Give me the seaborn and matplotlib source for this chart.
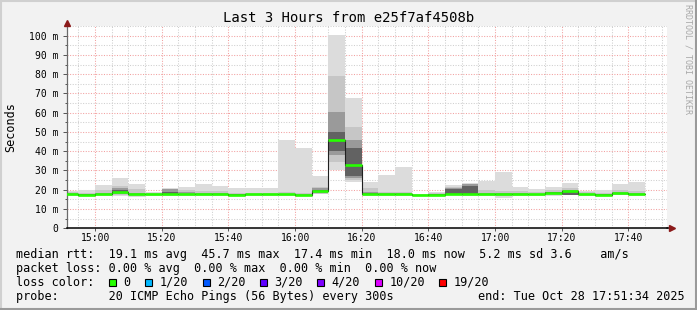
import numpy as np
import pandas as pd
import matplotlib
matplotlib.use("Agg")
import matplotlib.pyplot as plt
import seaborn as sns
from matplotlib.lines import Line2D
from matplotlib.patches import Rectangle
from matplotlib.ticker import FixedLocator, MultipleLocator

# ---------------- data ----------------
title = "Last 3 Hours from e25f7af4508b"
window_start = "14:51:34"
window_end = "17:51:34"
bin_minutes = 5

bin_start = ["14:50", "14:55", "15:00", "15:05", "15:10", "15:15", "15:20",
             "15:25", "15:30", "15:35", "15:40", "15:45", "15:50", "15:55",
             "16:00", "16:05", "16:10", "16:15", "16:20", "16:25", "16:30",
             "16:35", "16:40", "16:45", "16:50", "16:55", "17:00", "17:05",
             "17:10", "17:15", "17:20", "17:25", "17:30", "17:35", "17:40"]

median = [17.7, 17.4, 17.7, 18.6, 17.6, 17.7, 17.7, 17.7, 17.7, 17.7, 17.5, 17.6,
          17.6, 17.7, 17.2, 19.4, 45.6, 33.0, 17.8, 17.8, 17.8, 17.3, 17.4, 17.9,
          17.8, 17.8, 17.6, 17.8, 17.7, 18.4, 19.1, 17.7, 17.4, 18.2, 17.8]
ping_min = [17.0, 16.8, 16.9, 16.8, 16.4, 17.0, 17.0, 17.0, 17.0, 17.0, 16.8, 16.8,
            16.8, 17.0, 16.8, 17.6, 30.3, 24.2, 16.8, 17.0, 17.0, 16.9, 16.9, 17.2,
            17.0, 17.0, 15.9, 17.0, 16.9, 17.0, 17.2, 17.0, 17.0, 17.2, 17.0]
ping_p10 = [17.2, 17.0, 17.2, 17.3, 17.0, 17.3, 17.3, 17.3, 17.3, 17.3, 17.1, 17.1,
            17.1, 17.2, 17.0, 18.0, 34.6, 25.2, 17.2, 17.3, 17.3, 17.0, 17.1, 17.4,
            17.4, 17.3, 16.8, 17.3, 17.2, 17.4, 17.3, 17.3, 17.2, 17.5, 17.3]
ping_p25 = [17.4, 17.2, 17.4, 17.8, 17.3, 17.5, 17.5, 17.5, 17.5, 17.5, 17.3, 17.3,
            17.3, 17.4, 17.1, 18.4, 38.0, 26.2, 17.5, 17.5, 17.5, 17.1, 17.2, 17.6,
            17.6, 17.5, 17.2, 17.5, 17.4, 17.8, 17.4, 17.5, 17.3, 17.8, 17.5]
ping_p40 = [17.6, 17.3, 17.6, 18.3, 17.5, 17.6, 17.6, 17.6, 17.6, 17.6, 17.4, 17.5,
            17.5, 17.6, 17.1, 19.0, 40.0, 27.0, 17.7, 17.7, 17.7, 17.2, 17.3, 17.8,
            17.7, 17.7, 17.5, 17.7, 17.6, 18.2, 17.5, 17.6, 17.3, 18.1, 17.7]
ping_p60 = [17.9, 17.6, 17.9, 19.8, 17.8, 17.8, 18.6, 17.9, 17.9, 17.9, 17.7, 17.7,
            17.7, 17.8, 17.4, 20.0, 50.0, 41.5, 18.2, 18.0, 18.0, 17.4, 17.6, 20.5,
            22.0, 18.0, 17.8, 18.0, 17.9, 18.7, 19.3, 17.9, 17.6, 18.4, 18.0]
ping_p75 = [18.2, 17.8, 18.5, 21.0, 18.5, 18.0, 20.2, 18.6, 18.3, 18.2, 17.9, 17.9,
            17.9, 18.0, 17.8, 20.8, 60.5, 45.8, 19.0, 18.3, 18.3, 17.5, 17.8, 21.0,
            22.8, 18.5, 18.2, 18.3, 18.0, 18.8, 20.0, 18.0, 17.8, 18.8, 18.3]
ping_p90 = [18.8, 18.5, 19.8, 21.8, 20.2, 18.3, 20.6, 19.8, 19.5, 19.2, 18.5, 18.5,
            18.5, 18.8, 18.3, 21.5, 79.0, 52.7, 21.0, 19.0, 19.0, 17.8, 18.4, 21.6,
            23.2, 20.0, 19.5, 19.5, 18.8, 19.8, 21.0, 18.6, 18.3, 19.8, 19.5]
ping_max = [19.5, 20.0, 22.5, 26.2, 23.0, 18.7, 20.8, 21.5, 23.0, 22.0, 20.7, 20.7,
            20.7, 45.8, 41.8, 27.2, 100.3, 67.5, 24.2, 27.7, 32.0, 18.0, 19.0, 22.5,
            23.7, 24.7, 29.0, 21.6, 20.2, 21.6, 23.7, 19.5, 19.8, 23.0, 24.2]

y_tick_values = [0, 10, 20, 30, 40, 50, 60, 70, 80, 90, 100]
y_tick_labels = ["0", "10 m", "20 m", "30 m", "40 m", "50 m", "60 m", "70 m",
                 "80 m", "90 m", "100 m"]
x_tick_labels = ["15:00", "15:20", "15:40", "16:00", "16:20", "16:40", "17:00",
                 "17:20", "17:40"]

rtt_avg, rtt_max, rtt_min, rtt_now, rtt_sd, rtt_ams = 19.1, 45.7, 17.4, 18.0, 5.2, 3.6
loss_avg, loss_max, loss_min, loss_now = 0.00, 0.00, 0.00, 0.00
loss_labels = ["0", "1/20", "2/20", "3/20", "4/20", "10/20", "19/20"]
loss_colors = ["#26ff00", "#00b8ff", "#0059ff", "#5e00ff", "#7e00ff", "#dd00ff", "#ff0000"]
probe_text = "20 ICMP Echo Pings (56 Bytes) every 300s"
end_text = "end: Tue Oct 28 17:51:34 2025"
watermark = "RRDTOOL / TOBI OETIKER"


def tmin(s):
    parts = [int(p) for p in s.split(":")]
    v = parts[0] * 60 + parts[1]
    if len(parts) > 2:
        v += parts[2] / 60.0
    return v


# ---------------- style ----------------
sns.set_theme(style="white")
plt.rcParams['font.family'] = ['DejaVu Sans Mono', 'DejaVu Sans']

W, H = 697, 310
BG = "#f2f2f2"
fig = plt.figure(figsize=(W / 100, H / 100), dpi=100, facecolor=BG)


def px_rect(l, t, r, b):
    return [l / W, 1 - b / H, (r - l) / W, (b - t) / H]


AX_L, AX_T, AX_R, AX_B = 67, 25.5, 667, 228.3
ax = fig.add_axes(px_rect(AX_L, AX_T, AX_R, AX_B))
ax.set_facecolor("white")

starts = np.array([tmin(s) for s in bin_start])
ends = starts + bin_minutes

df = pd.DataFrame({"start": starts, "end": ends, "median": median,
                   "lo": ping_min, "p10": ping_p10, "p25": ping_p25,
                   "p40": ping_p40, "p60": ping_p60, "p75": ping_p75,
                   "p90": ping_p90, "hi": ping_max})

# smoke bands (outer light -> inner dark)
bands = [("lo", "hi", "#dcdcdc"), ("p10", "p90", "#c6c6c6"),
         ("p25", "p75", "#9a9a9a"), ("p40", "p60", "#626262")]
for lo_c, hi_c, col in bands:
    ax.bar(df["start"], df[hi_c] - df[lo_c], bottom=df[lo_c], width=bin_minutes,
           align="edge", color=col, linewidth=0, antialiased=False, zorder=2)

# median step line (dark) via seaborn
step_df = pd.DataFrame({"t": list(df["start"]) + [df["end"].iloc[-1]],
                        "median": list(df["median"]) + [df["median"].iloc[-1]]})
sns.lineplot(data=step_df, x="t", y="median", drawstyle="steps-post",
             estimator=None, color="#202020", linewidth=0.8, ax=ax, zorder=3,
             legend=False)
# loss-coloured median segments
ax.hlines(df["median"], df["start"], df["end"], colors=loss_colors[0],
          linewidth=1.9, zorder=4)

ax.set_xlim(tmin(window_start), tmin(window_end))
ax.set_ylim(0, (AX_B - AX_T) / 1.927)
ax.set_xlabel("")
ax.set_ylabel("")

ax.yaxis.set_major_locator(FixedLocator(y_tick_values))
ax.set_yticklabels(y_tick_labels)
ax.yaxis.set_minor_locator(MultipleLocator(5))
ax.xaxis.set_major_locator(FixedLocator([tmin(s) for s in x_tick_labels]))
ax.set_xticklabels(x_tick_labels)
ax.xaxis.set_minor_locator(MultipleLocator(bin_minutes))

ax.set_axisbelow(True)
ax.grid(which="minor", color="#cfcfcf", linestyle=(0, (1, 1.5)), linewidth=0.75)
ax.grid(which="major", color="#f2a0a0", linestyle=(0, (1, 1.5)), linewidth=0.75)

ax.tick_params(axis="y", which="major", length=3, width=0.7, color="#555555",
               labelsize=7, pad=3, labelcolor="black", left=True)
ax.tick_params(axis="y", which="minor", length=1.5, width=0.7, color="#555555", left=True)
ax.tick_params(axis="x", which="major", length=2, width=0.7, color="#555555",
               labelsize=7, pad=1.3, labelcolor="black", bottom=True)
ax.tick_params(axis="x", which="minor", length=0)

for side in ("top", "right"):
    ax.spines[side].set_visible(False)
ax.spines["left"].set_color("#6a6a6a")
ax.spines["left"].set_linewidth(0.9)
ax.spines["bottom"].set_color("black")
ax.spines["bottom"].set_linewidth(1.1)

# axis arrows
ax.plot([0], [1.012], marker="^", markersize=4.5, color="#8b1a1a",
        transform=ax.transAxes, clip_on=False, zorder=6)
ax.plot([0, 0], [1.0, 1.01], color="#6a6a6a", linewidth=0.9,
        transform=ax.transAxes, clip_on=False)
ax.plot([1.0, 1.004], [0, 0], color="black", linewidth=1.1,
        transform=ax.transAxes, clip_on=False)
ax.plot([1.0075], [0], marker=">", markersize=4.5, color="#8b1a1a",
        transform=ax.transAxes, clip_on=False, zorder=6)


# ---------------- texts ----------------
def ftext(x, y, s, **kw):
    return fig.text(x / W, 1 - y / H, s, **kw)


ftext(W / 2, 18.5, title, ha="center", va="center", fontsize=10, color="black")
ftext(11, 127, "Seconds", rotation=90, ha="center", va="center", fontsize=8.5,
      color="black")
ftext(688, 4, watermark, rotation=270, ha="center", va="top", fontsize=6,
      color="#a8a8a8")

FS = 8.5
line1 = (f"median rtt:  {rtt_avg:.1f} ms avg  {rtt_max:.1f} ms max  "
         f"{rtt_min:.1f} ms min  {rtt_now:.1f} ms now  {rtt_sd:.1f} ms sd "
         f"{rtt_ams:.1f}    am/s")
line2 = (f"packet loss: {loss_avg:.2f} % avg  {loss_max:.2f} % max  "
         f"{loss_min:.2f} % min  {loss_now:.2f} % now")
ftext(16, 254.3, line1, ha="left", va="center", fontsize=FS, color="black")
ftext(16, 268.2, line2, ha="left", va="center", fontsize=FS, color="black")
ftext(16, 282.3, "loss color:", ha="left", va="center", fontsize=FS, color="black")

char_w = 7.1
x = 109.0
for lab, col in zip(loss_labels, loss_colors):
    fig.add_artist(Rectangle((x / W, 1 - 286.2 / H), 7 / W, 7 / H,
                             transform=fig.transFigure, facecolor=col,
                             edgecolor="black", linewidth=0.8))
    ftext(x + 14.5, 282.3, lab, ha="left", va="center", fontsize=FS, color="black")
    x = x + 14.5 + len(lab) * char_w + 14.5

ftext(16, 296.3, "probe:       " + probe_text, ha="left", va="center", fontsize=FS,
      color="black")
ftext(478, 296.3, end_text, ha="left", va="center", fontsize=FS, color="black")

# frame (bevel)
for xs, ys, c in [([0, 1], [1 - 1 / H] * 2, "#d0d0d0"),
                  ([1 / W] * 2, [0, 1], "#d0d0d0"),
                  ([1 - 1 / W] * 2, [0, 1], "#9a9a9a"),
                  ([0, 1], [1 / H] * 2, "#9a9a9a")]:
    fig.add_artist(Line2D(xs, ys, transform=fig.transFigure, color=c, linewidth=1.5))

fig.savefig("out.png", dpi=100, facecolor=BG)
